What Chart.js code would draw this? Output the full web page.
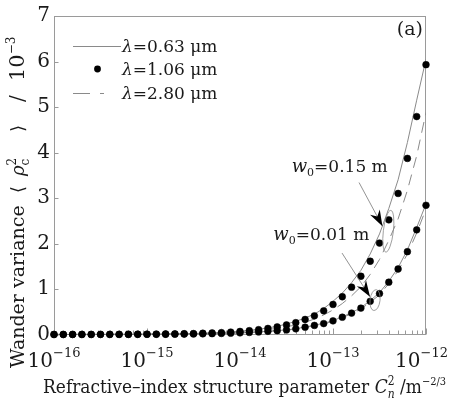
<!DOCTYPE html>
<html>
<head>
<meta charset="utf-8">
<title>Wander variance</title>
<script src="https://cdn.jsdelivr.net/npm/chart.js@4.4.1/dist/chart.umd.min.js"></script>
<style>
  html, body { margin: 0; padding: 0; background: #fff; }
  canvas { display: block; }
</style>
</head>
<body>
<canvas id="wanderChart" width="450" height="398"></canvas>
<script>
// log10(Cn^2), one point every 0.1 decade
const cn2Exp = [-16, -15.9, -15.8, -15.7, -15.6, -15.5, -15.4, -15.3, -15.2, -15.1,
                -15, -14.9, -14.8, -14.7, -14.6, -14.5, -14.4, -14.3, -14.2, -14.1,
                -14, -13.9, -13.8, -13.7, -13.6, -13.5, -13.4, -13.3, -13.2, -13.1,
                -13, -12.9, -12.8, -12.7, -12.6, -12.5, -12.4, -12.3, -12.2, -12.1, -12];

// wander variance /1e-3, w0 = 0.15 m
const w015_063 = [0.001, 0.001, 0.002, 0.002, 0.003, 0.003, 0.004, 0.004, 0.005, 0.006,
                  0.008, 0.010, 0.012, 0.015, 0.019, 0.023, 0.030, 0.037, 0.046, 0.058,
                  0.074, 0.092, 0.117, 0.146, 0.18, 0.23, 0.29, 0.36, 0.45, 0.57,
                  0.73, 0.91, 1.14, 1.41, 1.77, 2.21, 2.77, 3.40, 4.22, 5.15, 6.05];
const w015_106 = [0.001, 0.001, 0.002, 0.002, 0.002, 0.003, 0.003, 0.004, 0.005, 0.006,
                  0.007, 0.009, 0.011, 0.014, 0.017, 0.021, 0.027, 0.034, 0.042, 0.053,
                  0.067, 0.084, 0.106, 0.133, 0.167, 0.21, 0.26, 0.33, 0.41, 0.52,
                  0.66, 0.83, 1.04, 1.28, 1.61, 2.01, 2.52, 3.10, 3.87, 4.79, 5.93];
const w015_280 = [0.001, 0.001, 0.001, 0.002, 0.002, 0.002, 0.003, 0.003, 0.004, 0.005,
                  0.006, 0.007, 0.009, 0.011, 0.014, 0.017, 0.022, 0.028, 0.034, 0.043,
                  0.055, 0.069, 0.087, 0.109, 0.137, 0.17, 0.21, 0.27, 0.34, 0.43,
                  0.54, 0.68, 0.85, 1.05, 1.32, 1.65, 2.07, 2.54, 3.17, 3.93, 4.88];

// wander variance /1e-3, w0 = 0.01 m
const w001_063 = [0.0004, 0.0005, 0.0006, 0.0008, 0.001, 0.0012, 0.0015, 0.0019, 0.0024, 0.003,
                  0.0039, 0.0049, 0.0061, 0.0078, 0.0097, 0.012, 0.015, 0.018, 0.023, 0.030,
                  0.037, 0.046, 0.057, 0.071, 0.087, 0.102, 0.128, 0.163, 0.204, 0.245,
                  0.306, 0.388, 0.48, 0.59, 0.745, 0.92, 1.17, 1.47, 1.86, 2.35, 2.87];
const w001_106 = [0.0004, 0.0005, 0.0006, 0.0008, 0.001, 0.0012, 0.0015, 0.0019, 0.0024, 0.003,
                  0.0038, 0.0048, 0.006, 0.0076, 0.0095, 0.012, 0.015, 0.018, 0.023, 0.029,
                  0.036, 0.045, 0.056, 0.07, 0.085, 0.10, 0.125, 0.16, 0.20, 0.24,
                  0.30, 0.38, 0.47, 0.58, 0.73, 0.90, 1.15, 1.44, 1.82, 2.30, 2.84];
const w001_280 = [0.0004, 0.0005, 0.0006, 0.0008, 0.001, 0.0012, 0.0015, 0.0018, 0.0023, 0.0029,
                  0.0037, 0.0047, 0.0058, 0.0074, 0.0092, 0.012, 0.015, 0.017, 0.022, 0.028,
                  0.035, 0.044, 0.054, 0.068, 0.082, 0.097, 0.121, 0.155, 0.194, 0.233,
                  0.29, 0.37, 0.456, 0.56, 0.71, 0.87, 1.12, 1.40, 1.77, 2.23, 2.76];

const yTicks = [0, 1, 2, 3, 4, 5, 6, 7];
const xDecades = [-16, -15, -14, -13, -12];
const legendLabels = ['0.63 μm', '1.06 μm', '2.80 μm'];

const FONT = '"DejaVu Serif", serif';
const TEXT = '#1a1a1a';
const LINE_GRAY = '#8a8a8a';
const AXIS_GRAY = '#9a9a9a';
const DASH = [11, 7];

function pts(vals) {
    return vals.map((v, i) => ({ x: Math.pow(10, cn2Exp[i]), y: v }));
}

const dotStyle = {
    showLine: false, pointRadius: 3.4, pointBackgroundColor: '#000',
    pointBorderColor: '#000', pointBorderWidth: 0.5, clip: false
};
const solidStyle = { showLine: true, pointRadius: 0, borderColor: LINE_GRAY, borderWidth: 1, fill: false };
const dashStyle = { showLine: true, pointRadius: 0, borderColor: LINE_GRAY, borderWidth: 1, fill: false, borderDash: DASH };

// rich text helpers (super/subscripts)
function segFont(s) {
    return (s.it ? 'italic ' : '') + s.size + 'px ' + FONT;
}
function richWidth(ctx, segs) {
    let w = 0, pending = 0;
    segs.forEach(s => {
        ctx.font = segFont(s);
        const sw = ctx.measureText(s.t).width;
        if (s.stack) { pending = sw; return; }
        w += Math.max(sw, pending); pending = 0;
    });
    return w;
}
function drawRich(ctx, segs, x, y) {
    let cx = x, pending = 0;
    segs.forEach(s => {
        if (s.at !== undefined) cx = x + s.at;
        ctx.font = segFont(s);
        const sw = ctx.measureText(s.t).width;
        ctx.fillText(s.t, cx, y + (s.dy || 0));
        if (s.stack) { pending = sw; return; }
        cx += Math.max(sw, pending); pending = 0;
    });
}

const xTitle = [
    { t: 'Refractive–index structure parameter ', size: 19 },
    { t: 'C', size: 19, it: true },
    { t: '2', size: 12, dy: -8, stack: true },
    { t: 'n', size: 12, it: true, dy: 5 },
    { t: ' /m', size: 19 },
    { t: '−2/3', size: 11, dy: -8 }
];
// 'at' = offset along the axis from the bottom end of the title
const yTitle = [
    { t: 'Wander variance', size: 19, at: 0 },
    { t: '⟨', size: 18, at: 175 },
    { t: 'ρ', size: 18, it: true, at: 192 },
    { t: '2', size: 12, dy: -8, stack: true },
    { t: 'c', size: 12, dy: 5 },
    { t: '⟩', size: 18, at: 236 },
    { t: '/', size: 20, at: 266 },
    { t: '10', size: 21, at: 287 },
    { t: '−3', size: 12, dy: -9 }
];

// annotations, anchored in data coordinates (log10 x, y)
const notes = [
    { w0: '0.15 m', text: [-13.444, 3.57], from: [-12.72, 3.34], to: [-12.468, 2.38], ell: [-12.405, 2.27, 5, 21] },
    { w0: '0.01 m', text: [-13.642, 2.07], from: [-12.903, 1.79], to: [-12.602, 0.83], ell: [-12.548, 0.756, 5, 10.5] }
];

const decorPlugin = {
    id: 'decor',
    beforeDatasetsDraw(chart) {
        const { ctx, chartArea: a, scales: { x, y } } = chart;
        const L = Math.round(a.left) + 0.5, R = Math.round(a.right) - 0.5;
        const T = Math.round(a.top) + 0.5, B = Math.round(a.bottom) - 0.5;
        ctx.save();
        ctx.strokeStyle = AXIS_GRAY;
        ctx.lineWidth = 1;
        ctx.strokeRect(L, T, R - L, B - T);
        ctx.beginPath();
        xDecades.forEach(d => {
            const px = Math.round(x.getPixelForValue(Math.pow(10, d))) + 0.5;
            ctx.moveTo(px, B); ctx.lineTo(px, B - 6);
        });
        xDecades.slice(0, -1).forEach(d => {
            for (let m = 2; m <= 9; m++) {
                const px = Math.round(x.getPixelForValue(m * Math.pow(10, d))) + 0.5;
                ctx.moveTo(px, B); ctx.lineTo(px, B - 4);
            }
        });
        yTicks.forEach(t => {
            const py = Math.round(y.getPixelForValue(t)) + 0.5;
            ctx.moveTo(L, py); ctx.lineTo(L + 4, py);
        });
        ctx.stroke();
        ctx.restore();
    },
    afterDraw(chart) {
        const { ctx, chartArea: a, scales: { x, y } } = chart;
        const W = chart.width;
        ctx.save();
        ctx.fillStyle = TEXT;
        ctx.textBaseline = 'alphabetic';
        ctx.textAlign = 'left';

        // x tick labels 10^n
        xDecades.forEach(d => {
            const segs = [{ t: '10', size: 20 }, { t: '−' + Math.abs(d), size: 13, dy: -10 }];
            const w = richWidth(ctx, segs);
            const px = x.getPixelForValue(Math.pow(10, d));
            let left = px - w / 2;
            if (left + w > W - 2) left = W - 2 - w;
            drawRich(ctx, segs, left, a.bottom + 32);
        });

        // x title, squeezed horizontally to the reference width
        const sx = 403 / richWidth(ctx, xTitle);
        ctx.save();
        ctx.translate(43, 392.5);
        ctx.scale(sx, 1);
        drawRich(ctx, xTitle, 0, 0);
        ctx.restore();

        // y title, reads bottom to top
        ctx.save();
        ctx.translate(23.5, 368);
        ctx.rotate(-Math.PI / 2);
        drawRich(ctx, yTitle, 0, 0);
        ctx.restore();

        // panel label
        ctx.font = '19px ' + FONT;
        ctx.textAlign = 'right';
        ctx.fillText('(a)', a.right - 3, a.top + 19);
        ctx.textAlign = 'left';

        // legend
        const lx = a.left + 19, tx = a.left + 68;
        const rows = [a.top + 30, a.top + 53, a.top + 77];
        ctx.strokeStyle = LINE_GRAY;
        ctx.lineWidth = 1;
        ctx.beginPath();
        ctx.moveTo(lx, rows[0] + 0.5); ctx.lineTo(lx + 48, rows[0] + 0.5);
        ctx.stroke();
        ctx.setLineDash([17, 10, 4, 40]);
        ctx.beginPath();
        ctx.moveTo(lx, rows[2] + 0.5); ctx.lineTo(lx + 48, rows[2] + 0.5);
        ctx.stroke();
        ctx.setLineDash([]);
        ctx.fillStyle = '#000';
        ctx.beginPath();
        ctx.arc(lx + 24.5, rows[1], 3.4, 0, Math.PI * 2);
        ctx.fill();
        ctx.fillStyle = TEXT;
        legendLabels.forEach((lab, i) => {
            drawRich(ctx, [{ t: 'λ', size: 17, it: true }, { t: '=' + lab, size: 17 }], tx, rows[i] + 6);
        });

        // w0 annotations
        notes.forEach(n => {
            const px = e => x.getPixelForValue(Math.pow(10, e[0]));
            const py = e => y.getPixelForValue(e[1]);
            ctx.fillStyle = TEXT;
            drawRich(ctx, [
                { t: 'w', size: 18, it: true },
                { t: '0', size: 11, dy: 4 },
                { t: '=' + n.w0, size: 17 }
            ], px(n.text), py(n.text));

            const x1 = px(n.from), y1 = py(n.from), x2 = px(n.to), y2 = py(n.to);
            const c = Math.cos(Math.atan2(y2 - y1, x2 - x1)), s = Math.sin(Math.atan2(y2 - y1, x2 - x1));
            ctx.strokeStyle = '#777';
            ctx.lineWidth = 0.8;
            ctx.beginPath();
            ctx.moveTo(x1, y1); ctx.lineTo(x2, y2);
            ctx.stroke();
            ctx.fillStyle = '#000';
            ctx.beginPath();
            ctx.moveTo(x2, y2);
            ctx.lineTo(x2 - 16 * c + 5.5 * s, y2 - 16 * s - 5.5 * c);
            ctx.lineTo(x2 - 11 * c, y2 - 11 * s);
            ctx.lineTo(x2 - 16 * c - 5.5 * s, y2 - 16 * s + 5.5 * c);
            ctx.closePath();
            ctx.fill();

            ctx.strokeStyle = '#888';
            ctx.lineWidth = 0.8;
            ctx.beginPath();
            ctx.ellipse(px(n.ell), py(n.ell), n.ell[2], n.ell[3], 0.12, 0, Math.PI * 2);
            ctx.stroke();
        });
        ctx.restore();
    }
};

new Chart(document.getElementById('wanderChart'), {
    type: 'scatter',
    data: {
        datasets: [
            { label: 'λ=1.06 μm, w0=0.15 m', data: pts(w015_106), ...dotStyle },
            { label: 'λ=1.06 μm, w0=0.01 m', data: pts(w001_106), ...dotStyle },
            { label: 'λ=0.63 μm, w0=0.15 m', data: pts(w015_063), ...solidStyle },
            { label: 'λ=0.63 μm, w0=0.01 m', data: pts(w001_063), ...solidStyle },
            { label: 'λ=2.80 μm, w0=0.15 m', data: pts(w015_280), ...dashStyle },
            { label: 'λ=2.80 μm, w0=0.01 m', data: pts(w001_280), ...dashStyle }
        ]
    },
    options: {
        responsive: false,
        animation: false,
        devicePixelRatio: 1,
        events: [],
        layout: { padding: { top: 15, right: 24, left: 0, bottom: 0 } },
        plugins: {
            legend: { display: false },
            tooltip: { enabled: false }
        },
        scales: {
            x: {
                type: 'logarithmic',
                min: 1e-16,
                max: 1e-12,
                ticks: { display: false },
                grid: { display: false, drawTicks: false },
                border: { display: false },
                afterFit: s => { s.height = 63.5; }
            },
            y: {
                min: 0,
                max: 7,
                ticks: {
                    stepSize: 1,
                    padding: 4,
                    color: TEXT,
                    font: { family: FONT, size: 20 }
                },
                grid: { display: false, drawTicks: false },
                border: { display: false },
                afterFit: s => { s.width = 54; }
            }
        }
    },
    plugins: [decorPlugin]
});
</script>
</body>
</html>
